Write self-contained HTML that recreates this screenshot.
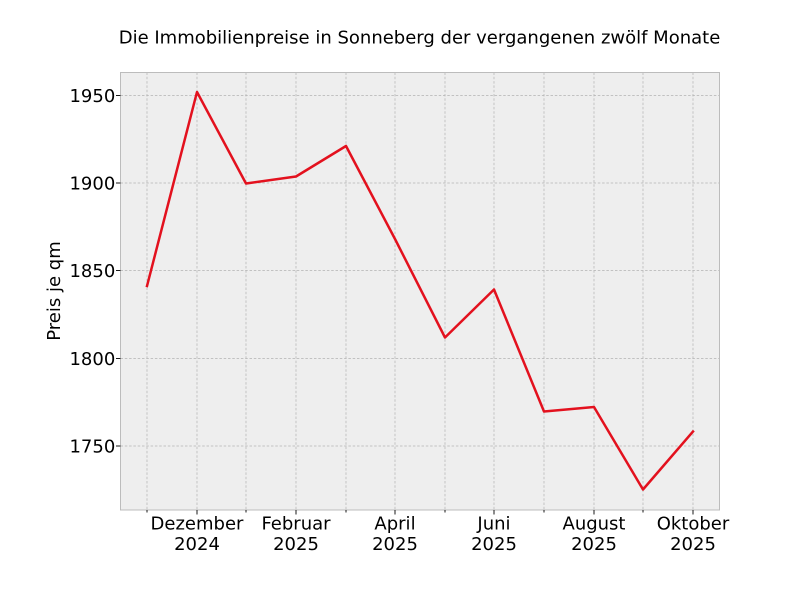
<!DOCTYPE html>
<html>
<head>
<meta charset="utf-8">
<style>
html,body{margin:0;padding:0;background:#fff;}
svg{display:block;}
text{font-family:"DejaVu Sans","Liberation Sans",sans-serif;fill:#000;}
</style>
</head>
<body>
<svg width="800" height="600" viewBox="0 0 800 600" xmlns="http://www.w3.org/2000/svg">
<rect x="0" y="0" width="800" height="600" fill="#fff"/>
<rect x="120.5" y="72.5" width="599" height="437.5" fill="#eeeeee"/>
<g stroke="#b2b2b2" stroke-width="0.7" stroke-dasharray="2.5,1.8" fill="none">
<line x1="147" y1="72.5" x2="147" y2="510"/>
<line x1="197" y1="72.5" x2="197" y2="510"/>
<line x1="246" y1="72.5" x2="246" y2="510"/>
<line x1="296" y1="72.5" x2="296" y2="510"/>
<line x1="346" y1="72.5" x2="346" y2="510"/>
<line x1="395" y1="72.5" x2="395" y2="510"/>
<line x1="445" y1="72.5" x2="445" y2="510"/>
<line x1="494" y1="72.5" x2="494" y2="510"/>
<line x1="544" y1="72.5" x2="544" y2="510"/>
<line x1="594" y1="72.5" x2="594" y2="510"/>
<line x1="643" y1="72.5" x2="643" y2="510"/>
<line x1="693" y1="72.5" x2="693" y2="510"/>
<line x1="120.5" y1="95.5" x2="719.5" y2="95.5"/>
<line x1="120.5" y1="183" x2="719.5" y2="183"/>
<line x1="120.5" y1="270.5" x2="719.5" y2="270.5"/>
<line x1="120.5" y1="358.5" x2="719.5" y2="358.5"/>
<line x1="120.5" y1="446" x2="719.5" y2="446"/>
</g>
<rect x="120.5" y="72.5" width="599" height="437.5" fill="none" stroke="#bcbcbc" stroke-width="1"/>
<g stroke="#000" stroke-width="0.9">
<line x1="116" y1="95.5" x2="120.5" y2="95.5"/>
<line x1="116" y1="183" x2="120.5" y2="183"/>
<line x1="116" y1="270.5" x2="120.5" y2="270.5"/>
<line x1="116" y1="358.5" x2="120.5" y2="358.5"/>
<line x1="116" y1="446" x2="120.5" y2="446"/>
<line x1="197" y1="510" x2="197" y2="514.5"/>
<line x1="296" y1="510" x2="296" y2="514.5"/>
<line x1="395" y1="510" x2="395" y2="514.5"/>
<line x1="494" y1="510" x2="494" y2="514.5"/>
<line x1="594" y1="510" x2="594" y2="514.5"/>
<line x1="693" y1="510" x2="693" y2="514.5"/>
<line x1="147" y1="510" x2="147" y2="512.5"/>
<line x1="246" y1="510" x2="246" y2="512.5"/>
<line x1="346" y1="510" x2="346" y2="512.5"/>
<line x1="445" y1="510" x2="445" y2="512.5"/>
<line x1="544" y1="510" x2="544" y2="512.5"/>
<line x1="643" y1="510" x2="643" y2="512.5"/>
</g>
<polyline fill="none" stroke="#e3111e" stroke-width="2.5" stroke-linejoin="round" stroke-linecap="square"
points="147,286 197,92 246,183.5 296,176.5 346,146 395,239 445,337.5 494,289.5 544,411.5 594,407 643,489.5 693,431.5"/>
<g font-size="18" text-anchor="end">
<text x="115.3" y="102">1950</text>
<text x="115.3" y="189.5">1900</text>
<text x="115.3" y="277">1850</text>
<text x="115.3" y="365">1800</text>
<text x="115.3" y="452.5">1750</text>
</g>
<g font-size="18" text-anchor="middle">
<text x="197" y="529.5">Dezember</text><text x="197" y="550">2024</text>
<text x="296" y="529.5">Februar</text><text x="296" y="550">2025</text>
<text x="395" y="529.5">April</text><text x="395" y="550">2025</text>
<text x="494" y="529.5">Juni</text><text x="494" y="550">2025</text>
<text x="594" y="529.5">August</text><text x="594" y="550">2025</text>
<text x="693" y="529.5">Oktober</text><text x="693" y="550">2025</text>
</g>
<text x="419.5" y="43.5" font-size="18" text-anchor="middle">Die Immobilienpreise in Sonneberg der vergangenen zwölf Monate</text>
<text transform="translate(60,291) rotate(-90)" font-size="18" text-anchor="middle">Preis je qm</text>
</svg>
</body>
</html>
